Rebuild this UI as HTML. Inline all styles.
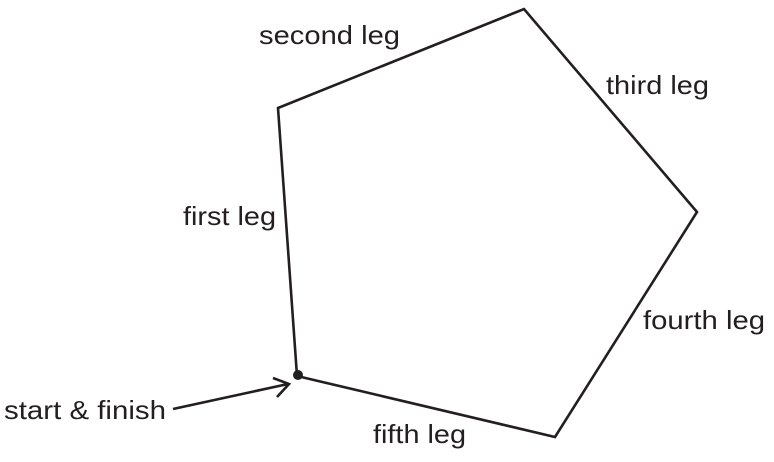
<!DOCTYPE html>
<html><head><style>
html,body{margin:0;padding:0;background:#fff;}
svg{display:block}
text{font-family:"Liberation Sans",Arial,sans-serif;font-size:26px;fill:#231f20}
</style></head><body>
<svg width="774" height="462" viewBox="0 0 774 462" xmlns="http://www.w3.org/2000/svg">
<polygon points="278,108 524,9 697,212 555,437 297,376" fill="none" stroke="#231f20" stroke-width="2.6" stroke-linejoin="miter"/>
<circle cx="298" cy="375" r="5" fill="#231f20"/>
<line x1="173" y1="409" x2="288" y2="384" stroke="#231f20" stroke-width="2.6"/>
<polyline points="273,378 289,384 277,397" fill="none" stroke="#231f20" stroke-width="2.6"/>
<text x="259" y="44" textLength="141" lengthAdjust="spacingAndGlyphs">second leg</text>
<text x="606" y="94" textLength="103" lengthAdjust="spacingAndGlyphs">third leg</text>
<text x="183" y="225" textLength="93" lengthAdjust="spacingAndGlyphs">first leg</text>
<text x="643" y="329" textLength="122" lengthAdjust="spacingAndGlyphs">fourth leg</text>
<text x="373" y="443" textLength="93" lengthAdjust="spacingAndGlyphs">fifth leg</text>
<text x="4" y="419" textLength="162" lengthAdjust="spacingAndGlyphs">start &amp; finish</text>
</svg>
</body></html>
